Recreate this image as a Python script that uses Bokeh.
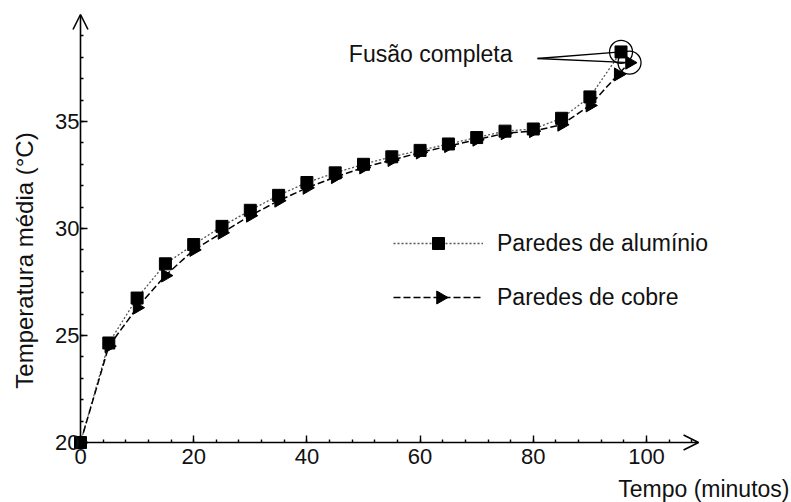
import numpy as np
from bokeh.plotting import figure
from bokeh.models import (Range1d, FixedTicker, Legend, LegendItem, LinearAxis,
                          Arrow, OpenHead, Label)
from bokeh.embed import file_html
from bokeh.resources import INLINE

# ---------------- data ----------------
tempo_aluminio = [0, 5, 10, 15, 20, 25, 30, 35, 40, 45, 50, 55, 60, 65, 70, 75, 80, 85, 90, 95.5]
temp_aluminio = [20.0, 24.65, 26.75, 28.35, 29.25, 30.1, 30.85, 31.55, 32.15, 32.6, 33.0, 33.35,
                 33.65, 33.95, 34.25, 34.55, 34.65, 35.15, 36.15, 38.25]

tempo_cobre = [0, 5, 10, 15, 20, 25, 30, 35, 40, 45, 50, 55, 60, 65, 70, 75, 80, 85, 90, 95, 97]
temp_cobre = [20.0, 24.5, 26.3, 27.8, 29.0, 29.8, 30.6, 31.3, 31.9, 32.4, 32.85, 33.2,
              33.55, 33.85, 34.15, 34.45, 34.55, 34.85, 35.75, 37.2, 37.75]

x_ticks = [0, 20, 40, 60, 80, 100]
x_minor = list(range(0, 109, 4))
y_ticks = [20, 25, 30, 35]
y_minor = list(range(20, 40))

rotulo_fusao = "Fusão completa"
legenda_aluminio = "Paredes de alumínio"
legenda_cobre = "Paredes de cobre"
titulo_x = "Tempo (minutos)"
titulo_y = "Temperatura média (°C)"

# ---------------- layout constants ----------------
W, H = 791, 502
X0_PX, PX_PER_X = 80, 5.66        # screen x of time 0, pixels per minute
Y0_PX, PX_PER_Y = 442, 21.4       # screen y (from top) of 20 °C, pixels per degree
X_AXIS_END, Y_AXIS_END = 109.2, 40.0

FONT = "Liberation Sans"
TXT = "#111111"

x_start = -X0_PX / PX_PER_X
x_end = (W - X0_PX) / PX_PER_X
y_start = 20 - (H - Y0_PX) / PX_PER_Y
y_end = 20 + Y0_PX / PX_PER_Y


def sx_to_x(sx):
    return x_start + sx / PX_PER_X


def sy_to_y(sy_top):
    return y_end - sy_top / PX_PER_Y


p = figure(width=W, height=H, output_backend="svg", toolbar_location=None,
           x_range=Range1d(x_start, x_end), y_range=Range1d(y_start, y_end),
           x_axis_location=None, y_axis_location=None,
           min_border=0, outline_line_color=None)
p.grid.visible = False
p.background_fill_color = "white"
p.border_fill_color = "white"

xaxis = LinearAxis(fixed_location=20)
yaxis = LinearAxis(fixed_location=0)
for ax in (xaxis, yaxis):
    ax.axis_line_color = None
    ax.major_tick_in = 7
    ax.major_tick_out = 0
    ax.minor_tick_in = 3
    ax.minor_tick_out = 0
    ax.major_tick_line_width = 1.4
    ax.minor_tick_line_width = 1.4
    ax.major_label_text_font = FONT
    ax.major_label_text_font_size = "22px"
    ax.major_label_text_color = TXT
xaxis.ticker = FixedTicker(ticks=x_ticks, minor_ticks=x_minor)
yaxis.ticker = FixedTicker(ticks=y_ticks, minor_ticks=y_minor)
xaxis.major_label_standoff = 6
yaxis.major_label_standoff = 1
p.add_layout(xaxis, "below")
p.add_layout(yaxis, "left")

# axis lines with open arrow heads
p.add_layout(Arrow(end=OpenHead(size=15, line_width=1.6, line_color="black"),
                   x_start=0, y_start=20, x_end=0, y_end=Y_AXIS_END,
                   line_color="black", line_width=1.6))
p.add_layout(Arrow(end=OpenHead(size=15, line_width=1.6, line_color="black"),
                   x_start=0, y_start=20, x_end=X_AXIS_END, y_end=20,
                   line_color="black", line_width=1.6))

# axis titles
p.add_layout(Label(x=W - 2, y=14, x_units="screen", y_units="screen",
                   text=titulo_x, text_align="right", text_baseline="middle",
                   text_font=FONT, text_font_size="23px", text_color=TXT))
p.add_layout(Label(x=24, y=H - 260, x_units="screen", y_units="screen",
                   text=titulo_y, angle=np.pi / 2,
                   text_align="center", text_baseline="middle",
                   text_font=FONT, text_font_size="24px", text_color=TXT))

# series
al_line = p.line(tempo_aluminio, temp_aluminio, line_color="#555555", line_width=1.3,
                 line_dash="2 2")
al_mark = p.scatter(tempo_aluminio, temp_aluminio, marker="square", size=12,
                    fill_color="black", line_color="black")
cu_line = p.line(tempo_cobre, temp_cobre, line_color="black", line_width=1.5,
                 line_dash="7 3")
cu_mark = p.scatter(tempo_cobre, temp_cobre, marker="triangle", size=13, angle=-np.pi / 2,
                    fill_color="black", line_color="black")

# melt-complete circles and leader lines
ends_x = [tempo_aluminio[-1], tempo_cobre[-1]]
ends_y = [temp_aluminio[-1], temp_cobre[-1]]
p.scatter(ends_x, ends_y, marker="circle", size=23, fill_color=None,
          line_color="black", line_width=1.3)
anchor_x, anchor_y = sx_to_x(537), sy_to_y(58)
p.segment(x0=[anchor_x, anchor_x], y0=[anchor_y, anchor_y], x1=ends_x, y1=ends_y,
          line_color="black", line_width=1.3)
p.add_layout(Label(x=512, y=H - 53, x_units="screen", y_units="screen",
                   text=rotulo_fusao, text_align="right", text_baseline="middle",
                   text_font=FONT, text_font_size="23px", text_color=TXT))

# legend
LEG_LEFT, LEG_BOTTOM = 393, 312
legend = Legend(items=[LegendItem(label=legenda_aluminio, renderers=[al_line, al_mark]),
                       LegendItem(label=legenda_cobre, renderers=[cu_line])],
                location=(LEG_LEFT, H - LEG_BOTTOM), glyph_width=90, glyph_height=30,
                spacing=24, label_standoff=14, padding=0, margin=0,
                border_line_color=None, background_fill_alpha=0,
                label_text_font=FONT, label_text_font_size="23px",
                label_text_color=TXT)
p.add_layout(legend, "center")
# right-pointing triangle on the copper legend sample (legend glyphs ignore marker angle)
p.scatter([sx_to_x(LEG_LEFT + 47)], [sy_to_y(LEG_BOTTOM - 15)], marker="triangle",
          size=13, angle=-np.pi / 2, fill_color="black", line_color="black")

open("out.html", "w").write(file_html(p, INLINE))
